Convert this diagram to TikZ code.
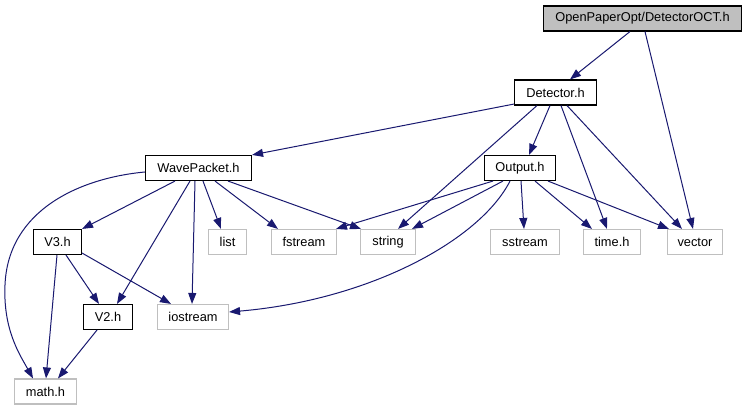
\documentclass[tikz,border=0pt]{standalone}
\usepackage{fontspec}
\setmainfont{Liberation Sans}
\usetikzlibrary{arrows.meta}
\definecolor{edgec}{HTML}{191970}
\definecolor{grayb}{HTML}{BFBFBF}
\begin{document}
\begin{tikzpicture}[x=1pt,y=-1pt,
  box/.style={draw=black, line width=1.1pt, minimum height=25pt, inner sep=0pt,
    font=\fontsize{12.8}{15}\selectfont, anchor=center},
  ext/.style={box, draw=grayb},
  e/.style={draw=edgec, line width=1pt, -{Triangle[length=11pt,width=8pt]}}]
\fill[white] (0,0) rectangle (747,411);
\useasboundingbox (0,0) rectangle (747,411);
% nodes
\node[box, fill=grayb, minimum width=198pt] (top) at (642.5,18.5) {OpenPaperOpt/DetectorOCT.h};
\node[box, minimum width=82pt] (det) at (555.5,92.5) {Detector.h};
\node[box, minimum width=106pt] (wave) at (198.5,168) {WavePacket.h};
\node[box, minimum width=71pt] (out) at (520,168) {Output.h};
\node[ext, minimum width=38pt] (list) at (227.5,242) {list};
\node[ext, minimum width=65pt] (fstream) at (304,242) {fstream};
\node[ext, minimum width=55pt] (string) at (388,242) {string};
\node[ext, minimum width=69pt] (sstream) at (525,242) {sstream};
\node[ext, minimum width=57pt] (time) at (612,242) {time.h};
\node[ext, minimum width=55pt] (vector) at (695,242) {vector};
\node[box, minimum width=48pt] (v3) at (57.5,242) {V3.h};
\node[box, minimum width=49pt] (v2) at (108,317) {V2.h};
\node[ext, minimum width=71pt] (io) at (193,317) {iostream};
\node[ext, minimum width=62pt] (math) at (45.5,391.5) {math.h};
% edges
\draw[e] ([xshift=-12.5pt]top.south) -- ([xshift=14.5pt]det.north);
\draw[e] ([xshift=2.5pt]top.south) -- ([xshift=-2pt]vector.north);
\draw[e] ([yshift=1.5pt]det.south west) -- (wave.north east);
\draw[e] ([xshift=-18.5pt]det.south) -- ([xshift=10pt]string.north);
\draw[e] ([xshift=-5.5pt]det.south) -- ([xshift=9pt]out.north);
\draw[e] ([xshift=5.5pt]det.south) -- ([xshift=-5pt]time.north);
\draw[e] ([xshift=11.5pt]det.south) -- ([xshift=-13pt]vector.north);
\draw[e] ([yshift=-4pt]wave.west) .. controls (80,178) and (8,210) .. (5,285)
  .. controls (3,330) and (20,355) .. ([xshift=-12.5pt]math.north);
\draw[e] ([xshift=-23.5pt]wave.south) -- (v3.north east);
\draw[e] ([xshift=-8.5pt]wave.south) -- ([xshift=9pt]v2.north);
\draw[e] ([xshift=-3.5pt]wave.south) -- ([xshift=-1pt]io.north);
\draw[e] ([xshift=4.5pt]wave.south) -- ([xshift=-6.5pt]list.north);
\draw[e] ([xshift=16.5pt]wave.south) -- ([xshift=-26pt]fstream.north);
\draw[e] ([xshift=29.5pt]wave.south) -- ([xshift=-27pt]string.north);
\draw[e] ([xshift=-27pt]out.south) -- ([xshift=32pt]fstream.north);
\draw[e] ([xshift=-17pt]out.south) -- ([xshift=24pt]string.north);
\draw[e] ([xshift=-10pt]out.south) .. controls (480,240) and (370,300) .. ([yshift=5pt]io.east);
\draw[e] ([xshift=1pt]out.south) -- ([xshift=-1pt]sstream.north);
\draw[e] ([xshift=15pt]out.south) -- ([xshift=-20pt]time.north);
\draw[e] ([xshift=28pt]out.south) -- ([xshift=-26pt]vector.north);
\draw[e] ([xshift=-0.5pt]v3.south) -- ([xshift=0.5pt]math.north);
\draw[e] ([xshift=8.5pt]v3.south) -- ([xshift=-9pt]v2.north);
\draw[e] ([yshift=2pt]v3.south east) -- ([xshift=-22pt]io.north);
\draw[e] ([xshift=-11pt]v2.south) -- ([xshift=12.5pt]math.north);
\end{tikzpicture}
\end{document}
